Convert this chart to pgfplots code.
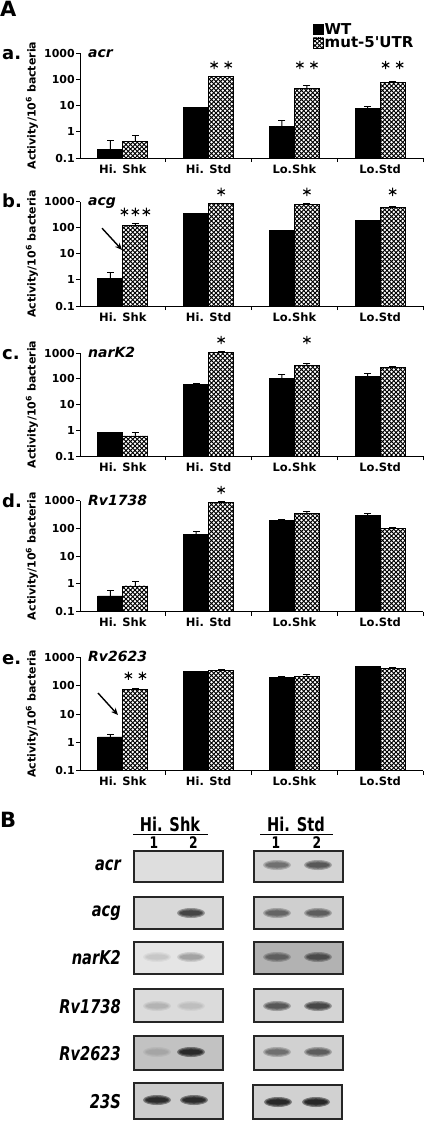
\documentclass[border=0pt]{standalone}
\usepackage{fontspec}
\setmainfont{DejaVu Sans}
\newfontfamily\gelfont{DejaVu Sans}[FakeStretch=0.77]
\usepackage{pgfplots}
\usepackage{pgfplotstable}
\pgfplotsset{compat=1.18}
\usetikzlibrary{patterns,arrows.meta}

\pgfdeclarepatternformonly{xhatch}{\pgfqpoint{-1pt}{-1pt}}{\pgfqpoint{5.5pt}{5.5pt}}{\pgfqpoint{4.5pt}{4.5pt}}{%
  \pgfsetlinewidth{0.85pt}%
  \pgfpathmoveto{\pgfqpoint{-0.5pt}{-0.5pt}}\pgfpathlineto{\pgfqpoint{5pt}{5pt}}%
  \pgfpathmoveto{\pgfqpoint{-0.5pt}{5pt}}\pgfpathlineto{\pgfqpoint{5pt}{-0.5pt}}%
  \pgfusepath{stroke}}

\pgfdeclareplotmark{band}{%
  \pgfpathellipse{\pgfpointorigin}{\pgfqpoint{14pt}{0pt}}{\pgfqpoint{0pt}{5pt}}\pgfusepathqfill
  \pgfpathellipse{\pgfpointorigin}{\pgfqpoint{12.5pt}{0pt}}{\pgfqpoint{0pt}{3.8pt}}\pgfusepathqfill
  \pgfpathellipse{\pgfpointorigin}{\pgfqpoint{11pt}{0pt}}{\pgfqpoint{0pt}{2.6pt}}\pgfusepathqfill}

% ---------------- data: x = category, y = value, e = upper error ----------------
\pgfplotstableread{
x y e
0 0.21 0.25
1 8.3 0
2 1.6 1.2
3 7.5 2.0
}\aWT
\pgfplotstableread{
x y e
0 0.42 0.27
1 125 5
2 45 13
3 75 10
}\aMut
\pgfplotstableread{
x y e
0 1.1 0.75
1 340 20
2 78 0
3 185 0
}\bWT
\pgfplotstableread{
x y e
0 120 25
1 830 40
2 780 30
3 610 20
}\bMut
\pgfplotstableread{
x y e
0 0.8 0.04
1 58 10
2 100 45
3 125 35
}\cWT
\pgfplotstableread{
x y e
0 0.6 0.25
1 1030 70
2 340 60
3 285 5
}\cMut
\pgfplotstableread{
x y e
0 0.37 0.22
1 63 14
2 188 30
3 300 60
}\dWT
\pgfplotstableread{
x y e
0 0.85 0.4
1 890 20
2 340 60
3 100 12
}\dMut
\pgfplotstableread{
x y e
0 1.55 0.35
1 316 12
2 200 10
3 460 25
}\eWT
\pgfplotstableread{
x y e
0 71 8
1 335 35
2 210 45
3 410 40
}\eMut
% gel bands: x (pt), y (pt, negative = down), intensity 0..1
\pgfplotstableread{
x y i
277 -865 0.45
318 -865 0.60
191 -913 0.75
277 -913 0.50
318 -913 0.55
157 -957 0.10
191 -957 0.25
277 -957 0.45
318 -957 0.60
157 -1006 0.15
191 -1006 0.10
277 -1006 0.60
318 -1006 0.72
157 -1052 0.12
191 -1052 0.95
277 -1052 0.45
318 -1052 0.55
157 -1100 0.95
194 -1100 0.95
278 -1102 1.00
316 -1102 1.00
}\bands

\tikzset{ymode/.code={}}
\pgfplotsset{
 barpanel/.style={
   scale only axis, width=343pt,
   ymin=0.1, ymax=1000, log origin=infty,
   xmin=-0.5, xmax=3.5, clip=false,
   axis lines*=left,
   axis line style={line width=1pt},
   tick style={black, line width=1pt},
   tick align=outside, major tick length=4pt,
   ytick={0.1,1,10,100,1000}, yticklabels={0.1,1,10,100,1000},
   yminorticks=false,
   xtick={0.5,1.5,2.5,3.5}, xticklabels={},
   extra x ticks={0,1,2,3},
   extra x tick labels={Hi. Shk,Hi. Std,Lo.Shk,Lo.Std},
   extra x tick style={major tick length=0pt, xticklabel style={yshift=-3pt}},
   xticklabel style={font=\fontsize{11.5}{12}\selectfont\bfseries},
   yticklabel style={font=\fontsize{11}{12}\selectfont\bfseries, inner sep=1pt},
   ylabel={Activity/10\textsuperscript{6} bacteria},
   every axis y label/.style={at={(axis description cs:-0.14,0.5)}, rotate=90, anchor=center, font=\fontsize{11}{12}\selectfont\bfseries},
 },
 whisk/.style={ybar, bar width=1pt, bar shift=0pt, fill=black, draw=none,
   mark=-, mark size=3.5pt, mark options={draw=black, line width=1pt, solid}, forget plot},
 wt/.style={ybar, bar width=25pt, bar shift=0pt, fill=black, draw=black, line width=0.8pt, mark=none},
 mut/.style={ybar, bar width=25pt, bar shift=0pt, fill=white, postaction={pattern=xhatch}, draw=black, line width=0.8pt, mark=none},
 sqlegend/.style={legend image code/.code={\draw[##1,line width=0.6pt] (0pt,-5pt) rectangle (10pt,5pt);}},
 stars/.style={only marks, mark=asterisk, mark size=4.2pt, line width=1.1pt, black, forget plot},
}
\newcommand\genefont{\fontsize{14}{15}\selectfont\bfseries\itshape}
\newcommand\letfont{\fontsize{18}{19}\selectfont\bfseries}

\begin{document}
\begin{tikzpicture}
\node[anchor=base west, inner sep=0pt, font=\fontsize{21}{22}\selectfont\bfseries] at (0pt,-17pt) {A};

% ---------- a ----------
\begin{semilogyaxis}[barpanel, height=105pt, at={(80pt,-158pt)}, anchor=south west,
  legend cell align=left,
  legend style={at={(axis description cs:0.679,1.295)}, anchor=north west, draw=none, fill=none,
    font=\fontsize{15}{16}\selectfont\bfseries, row sep=-1pt, inner sep=0pt,
    nodes={inner sep=1pt}}]
\addplot[whisk] table[x expr=\thisrow{x}-0.1458, y expr=\thisrow{y}+\thisrow{e}] {\aWT};
\addplot[whisk] table[x expr=\thisrow{x}+0.1458, y expr=\thisrow{y}+\thisrow{e}] {\aMut};
\addplot[wt, sqlegend] table[x expr=\thisrow{x}-0.1458, y=y] {\aWT};
\addlegendentry{WT}
\addplot[mut, sqlegend] table[x expr=\thisrow{x}+0.1458, y=y] {\aMut};
\addlegendentry{mut-5\textquotesingle UTR}
\addplot[stars] coordinates {(1.064,350) (1.228,350) (2.064,350) (2.228,350) (3.064,350) (3.228,350)};
\node[anchor=base west, inner sep=0pt, xshift=8pt, yshift=-4pt, font=\genefont] at (axis description cs:0,1) {acr};
\node[anchor=base west, inner sep=0pt, xshift=-78pt, yshift=-6pt, font=\letfont] at (axis description cs:0,1) {a.};
\end{semilogyaxis}

% ---------- b ----------
\begin{semilogyaxis}[barpanel, height=104.5pt, at={(80pt,-306pt)}, anchor=south west]
\addplot[whisk] table[x expr=\thisrow{x}-0.1458, y expr=\thisrow{y}+\thisrow{e}] {\bWT};
\addplot[whisk] table[x expr=\thisrow{x}+0.1458, y expr=\thisrow{y}+\thisrow{e}] {\bMut};
\addplot[wt] table[x expr=\thisrow{x}-0.1458, y=y] {\bWT};
\addplot[mut] table[x expr=\thisrow{x}+0.1458, y=y] {\bMut};
\addplot[stars] coordinates {(0.018,400) (0.146,400) (0.274,400) (1.146,2340) (2.146,2340) (3.146,2340)};
\draw[-{Stealth[length=7pt,width=6pt]}, line width=1.4pt] (axis cs:-0.243,95) -- (axis cs:-0.01,14);
\node[anchor=base west, inner sep=0pt, xshift=8pt, yshift=-4pt, font=\genefont] at (axis description cs:0,1) {acg};
\node[anchor=base west, inner sep=0pt, xshift=-78pt, yshift=-6pt, font=\letfont] at (axis description cs:0,1) {b.};
\end{semilogyaxis}

% ---------- c ----------
\begin{semilogyaxis}[barpanel, height=103pt, at={(80pt,-456pt)}, anchor=south west]
\addplot[whisk] table[x expr=\thisrow{x}-0.1458, y expr=\thisrow{y}+\thisrow{e}] {\cWT};
\addplot[whisk] table[x expr=\thisrow{x}+0.1458, y expr=\thisrow{y}+\thisrow{e}] {\cMut};
\addplot[wt] table[x expr=\thisrow{x}-0.1458, y=y] {\cWT};
\addplot[mut] table[x expr=\thisrow{x}+0.1458, y=y] {\cMut};
\addplot[stars] coordinates {(1.146,3200) (2.146,3200)};
\node[anchor=base west, inner sep=0pt, xshift=8pt, yshift=-4pt, font=\genefont] at (axis description cs:0,1) {narK2};
\node[anchor=base west, inner sep=0pt, xshift=-78pt, yshift=-6pt, font=\letfont] at (axis description cs:0,1) {c.};
\end{semilogyaxis}

% ---------- d ----------
\begin{semilogyaxis}[barpanel, height=111pt, at={(80pt,-611.7pt)}, anchor=south west]
\addplot[whisk] table[x expr=\thisrow{x}-0.1458, y expr=\thisrow{y}+\thisrow{e}] {\dWT};
\addplot[whisk] table[x expr=\thisrow{x}+0.1458, y expr=\thisrow{y}+\thisrow{e}] {\dMut};
\addplot[wt] table[x expr=\thisrow{x}-0.1458, y=y] {\dWT};
\addplot[mut] table[x expr=\thisrow{x}+0.1458, y=y] {\dMut};
\addplot[stars] coordinates {(1.146,2440)};
\node[anchor=base west, inner sep=0pt, xshift=8pt, yshift=-5pt, font=\genefont] at (axis description cs:0,1) {Rv1738};
\node[anchor=base west, inner sep=0pt, xshift=-78pt, yshift=-7pt, font=\letfont] at (axis description cs:0,1) {d.};
\end{semilogyaxis}

% ---------- e ----------
\begin{semilogyaxis}[barpanel, height=113.4pt, at={(80pt,-770.7pt)}, anchor=south west]
\addplot[whisk] table[x expr=\thisrow{x}-0.1458, y expr=\thisrow{y}+\thisrow{e}] {\eWT};
\addplot[whisk] table[x expr=\thisrow{x}+0.1458, y expr=\thisrow{y}+\thisrow{e}] {\eMut};
\addplot[wt] table[x expr=\thisrow{x}-0.1458, y=y] {\eWT};
\addplot[mut] table[x expr=\thisrow{x}+0.1458, y=y] {\eMut};
\addplot[stars] coordinates {(0.064,224) (0.228,224)};
\draw[-{Stealth[length=7pt,width=6pt]}, line width=1.4pt] (axis cs:-0.29,55) -- (axis cs:-0.057,9.2);
\node[anchor=base west, inner sep=0pt, xshift=8pt, yshift=-4pt, font=\genefont] at (axis description cs:0,1) {Rv2623};
\node[anchor=base west, inner sep=0pt, xshift=-78pt, yshift=-7pt, font=\letfont] at (axis description cs:0,1) {e.};
\end{semilogyaxis}

% ---------- B : gel ----------
\node[anchor=base west, inner sep=0pt, font=\fontsize{21}{22}\selectfont\bfseries] at (0pt,-827pt) {B};
\begin{axis}[hide axis, x=1pt, y=1pt, xmin=0, xmax=425, ymin=-1121, ymax=-790,
  at={(0pt,-1121pt)}, anchor=south west, clip=false, enlargelimits=false]
% boxes
\addplot[fill=black!13, draw=black!85, line width=1.5pt] coordinates {(134,-851) (223,-851) (223,-882) (134,-882)} --cycle;
\addplot[fill=black!17, draw=black!85, line width=1.5pt] coordinates {(254,-851) (343,-851) (343,-882) (254,-882)} --cycle;
\addplot[fill=black!15, draw=black!85, line width=1.5pt] coordinates {(134,-897) (223,-897) (223,-929) (134,-929)} --cycle;
\addplot[fill=black!19, draw=black!85, line width=1.5pt] coordinates {(254,-897) (343,-897) (343,-929) (254,-929)} --cycle;
\addplot[fill=black!10, draw=black!85, line width=1.5pt] coordinates {(134,-942) (223,-942) (223,-974) (134,-974)} --cycle;
\addplot[fill=black!30, draw=black!85, line width=1.5pt] coordinates {(254,-942) (343,-942) (343,-974) (254,-974)} --cycle;
\addplot[fill=black!14, draw=black!85, line width=1.5pt] coordinates {(134,-989) (223,-989) (223,-1022) (134,-1022)} --cycle;
\addplot[fill=black!17, draw=black!85, line width=1.5pt] coordinates {(254,-989) (343,-989) (343,-1022) (254,-1022)} --cycle;
\addplot[fill=black!24, draw=black!85, line width=1.5pt] coordinates {(134,-1036) (223,-1036) (223,-1070) (134,-1070)} --cycle;
\addplot[fill=black!18, draw=black!85, line width=1.5pt] coordinates {(254,-1036) (343,-1036) (343,-1070) (254,-1070)} --cycle;
\addplot[fill=black!20, draw=black!85, line width=1.5pt] coordinates {(134,-1083) (223,-1083) (223,-1119) (134,-1119)} --cycle;
\addplot[fill=black!18, draw=black!85, line width=1.5pt] coordinates {(253,-1085) (342,-1085) (342,-1119) (253,-1119)} --cycle;
% bands
\addplot[scatter, only marks, mark=band, point meta=explicit, point meta min=0, point meta max=1,
  scatter/@pre marker code/.code={\pgfmathsetmacro\bandop{0.42*\pgfplotspointmetatransformed/1000}\scope[fill=black, draw=none, fill opacity=\bandop]},
  scatter/@post marker code/.code={\endscope}] table[x=x, y=y, meta=i] {\bands};
% header lines
\addplot[black, line width=1.5pt] coordinates {(133,-834.5) (208,-834.5)};
\addplot[black, line width=1.5pt] coordinates {(260,-834.5) (333,-834.5)};
% texts
\node[anchor=base, inner sep=0pt, font=\gelfont\fontsize{19}{20}\selectfont\bfseries] at (axis cs:170,-831.5) {Hi. Shk};
\node[anchor=base, inner sep=0pt, font=\gelfont\fontsize{19}{20}\selectfont\bfseries] at (axis cs:296,-831.5) {Hi. Std};
\node[anchor=base, inner sep=0pt, font=\gelfont\fontsize{16}{17}\selectfont\bfseries] at (axis cs:154,-848.5) {1};
\node[anchor=base, inner sep=0pt, font=\gelfont\fontsize{16}{17}\selectfont\bfseries] at (axis cs:193.5,-848.5) {2};
\node[anchor=base, inner sep=0pt, font=\gelfont\fontsize{16}{17}\selectfont\bfseries] at (axis cs:276,-848.5) {1};
\node[anchor=base, inner sep=0pt, font=\gelfont\fontsize{16}{17}\selectfont\bfseries] at (axis cs:317,-848.5) {2};
\node[anchor=base east, inner sep=0pt, font=\gelfont\fontsize{19}{20}\selectfont\bfseries\itshape] at (axis cs:121,-870) {acr};
\node[anchor=base east, inner sep=0pt, font=\gelfont\fontsize{19}{20}\selectfont\bfseries\itshape] at (axis cs:121,-916) {acg};
\node[anchor=base east, inner sep=0pt, font=\gelfont\fontsize{19}{20}\selectfont\bfseries\itshape] at (axis cs:121,-964) {narK2};
\node[anchor=base east, inner sep=0pt, font=\gelfont\fontsize{19}{20}\selectfont\bfseries\itshape] at (axis cs:121,-1013) {Rv1738};
\node[anchor=base east, inner sep=0pt, font=\gelfont\fontsize{19}{20}\selectfont\bfseries\itshape] at (axis cs:121,-1060) {Rv2623};
\node[anchor=base east, inner sep=0pt, font=\gelfont\fontsize{19}{20}\selectfont\bfseries\itshape] at (axis cs:121,-1108) {23S};
\end{axis}

\pgfresetboundingbox
\useasboundingbox (0pt,0pt) rectangle (425pt,-1121pt);
\end{tikzpicture}
\end{document}
